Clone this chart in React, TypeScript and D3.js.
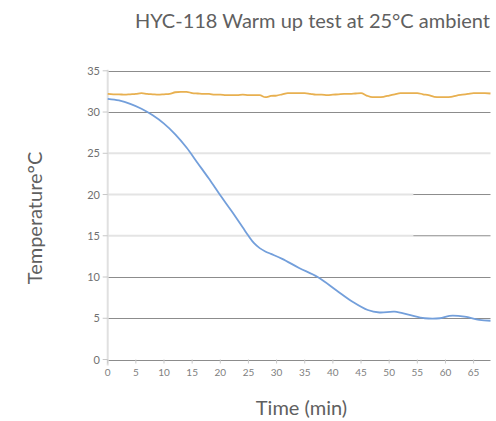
import React from "react";
import * as d3 from "d3";

const yTicks = [0, 5, 10, 15, 20, 25, 30, 35];
const xTicks = [0, 5, 10, 15, 20, 25, 30, 35, 40, 45, 50, 55, 60, 65];
const darkGrid = [0, 5, 10, 30, 35];
const lightGrid = [25];
const splitGrid = [15, 20];

const blueT = [0, 2, 4, 6, 8, 10, 12, 14, 16, 18, 20, 22, 24, 25, 26, 27, 28, 29, 31, 34, 37.3, 40.6, 43.5, 46.2, 48.3, 51, 53.6, 56.3, 59, 60.7, 63.4, 66, 68];
const blueV = [31.6, 31.4, 31.0, 30.4, 29.6, 28.6, 27.3, 25.7, 23.8, 21.9, 19.9, 18.0, 16.0, 15.0, 14.1, 13.5, 13.1, 12.8, 12.2, 11.1, 10.0, 8.4, 7.0, 6.0, 5.7, 5.8, 5.4, 5.0, 5.0, 5.3, 5.2, 4.8, 4.7];

const orangeT = d3.range(0, 69, 1);
const orangeV = [32.2, 32.15, 32.15, 32.1, 32.15, 32.2, 32.3, 32.2, 32.15, 32.1, 32.15, 32.2, 32.4, 32.45, 32.45, 32.3, 32.25, 32.2, 32.2, 32.1, 32.1, 32.05, 32.05, 32.05, 32.1, 32.05, 32.05, 32.05, 31.8, 31.95, 32.0, 32.15, 32.3, 32.3, 32.3, 32.3, 32.2, 32.1, 32.1, 32.05, 32.1, 32.15, 32.2, 32.2, 32.25, 32.3, 32.0, 31.8, 31.8, 31.85, 32.0, 32.15, 32.3, 32.3, 32.3, 32.3, 32.15, 32.05, 31.85, 31.8, 31.8, 31.85, 32.0, 32.1, 32.2, 32.3, 32.3, 32.3, 32.25];

const title = "HYC-118 Warm up test at 25°C ambient";
const xTitle = "Time (min)";
const yTitle = "Temperature°C";

export default function App() {
  const W = 496, H = 421;
  const x = d3.scaleLinear().domain([0, 68]).range([107.7, 490.5]);
  const y = d3.scaleLinear().domain([0, 35]).range([359.5, 70.8]);
  const line = d3.line<[number, number]>().x(d => x(d[0])).y(d => y(d[1]));
  const blue = blueT.map((t, i) => [t, blueV[i]] as [number, number]);
  const orange = orangeT.map((t, i) => [t, orangeV[i]] as [number, number]);
  const font = "Lato, 'Open Sans', sans-serif";
  const splitX = 413.3;
  return (
    <svg width={W} height={H} style={{ position: "absolute", left: 0, top: 0 }}>
      <rect width={W} height={H} fill="#fff" />
      <text x={490} y={28} textAnchor="end" fontFamily={font} fontSize={20} fill="#606060">{title}</text>
      {lightGrid.map(v => (
        <line key={"l" + v} x1={x(0)} x2={x(68)} y1={y(v)} y2={y(v)} stroke="#e4e4e4" strokeWidth={2} />
      ))}
      {splitGrid.map(v => (
        <g key={"s" + v}>
          <line x1={x(0)} x2={splitX} y1={y(v)} y2={y(v)} stroke="#e4e4e4" strokeWidth={2} />
          <line x1={splitX} x2={x(68)} y1={y(v)} y2={y(v)} stroke="#8c8c8c" strokeWidth={1} />
        </g>
      ))}
      {darkGrid.map(v => (
        <line key={"d" + v} x1={x(0)} x2={x(68)} y1={Math.round(y(v)) + 0.5} y2={Math.round(y(v)) + 0.5} stroke="#8c8c8c" strokeWidth={1} />
      ))}
      <line x1={x(0)} x2={x(0)} y1={y(35) - 1} y2={y(0) + 6} stroke="#e0e0e0" strokeWidth={2} />
      {yTicks.map(v => (
        <g key={"yt" + v}>
          <line x1={x(0) - 5} x2={x(0)} y1={y(v)} y2={y(v)} stroke="#c8c8c8" strokeWidth={1} />
          <text x={100} y={y(v) + 4} textAnchor="end" fontFamily={font} fontSize={11} fill="#707070">{v}</text>
        </g>
      ))}
      {xTicks.map(v => (
        <g key={"xt" + v}>
          <line x1={x(v)} x2={x(v)} y1={y(0)} y2={y(0) + 4} stroke="#c8c8c8" strokeWidth={1} />
          <text x={x(v)} y={376} textAnchor="middle" fontFamily={font} fontSize={10} fill="#808080">{v}</text>
        </g>
      ))}
      <path d={line.curve(d3.curveMonotoneX)(orange) || ""} fill="none" stroke="#e8b050" strokeWidth={1.8} />
      <path d={line.curve(d3.curveCatmullRom)(blue) || ""} fill="none" stroke="#739fdb" strokeWidth={1.8} />
      <text x={301.5} y={415} textAnchor="middle" fontFamily={font} fontSize={20} fill="#606060">{xTitle}</text>
      <text transform={`translate(42,218) rotate(-90)`} textAnchor="middle" fontFamily={font} fontSize={20} fill="#606060">{yTitle}</text>
    </svg>
  );
}
